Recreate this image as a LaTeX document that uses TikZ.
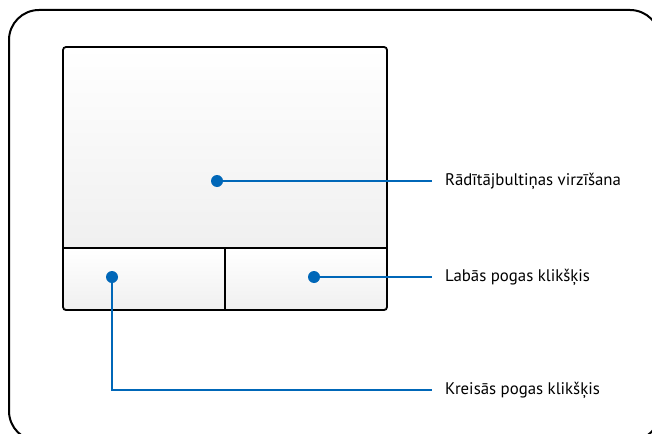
\documentclass[tikz,border=0pt]{standalone}
\usepackage{fontspec}
\setmainfont{PT Sans}
\begin{document}
\begin{tikzpicture}[x=1pt,y=-1pt,
  frame/.style={draw=black,line width=2pt},
  pad/.style={draw=black,line width=1.8pt,rounded corners=3pt},
  dotpt/.style={circle,fill=blueline,inner sep=0pt,minimum size=12pt},
  lead/.style={draw=blueline,line width=2.2pt},
  lbl/.style={anchor=west,inner sep=0pt,font=\fontsize{16.8}{19}\selectfont}]
\definecolor{blueline}{HTML}{0067B8}
\useasboundingbox (0,0) rectangle (652,433);
\clip (0,0) rectangle (652,433);
\draw[frame,rounded corners=30pt] (9,10) rectangle (660,441);
% touchpad
\shade[top color=white,bottom color=black!6,rounded corners=3pt] (63,47) rectangle (387,248);
\shade[top color=white,bottom color=black!6] (63,248) rectangle (225,310);
\shade[top color=white,bottom color=black!6] (225,248) rectangle (387,310);
\draw[pad] (63,47) rectangle (387,310);
\draw[line width=1.8pt] (63,248) -- (387,248);
\draw[line width=1.8pt] (225,248) -- (225,310);
% dots
\node[dotpt] (d1) at (217,181) {};
\node[dotpt] (d2) at (314,277) {};
\node[dotpt] (d3) at (112,277) {};
\coordinate (e1) at (432,181);
\coordinate (e2) at (432,277);
\coordinate (e3) at (432,390);
\coordinate (k3) at (112,390);
\draw[lead] (d1.center) -- (e1);
\draw[lead] (d2.center) -- (e2);
\draw[lead] (d3.center) -- (k3) -- (e3);
\node[lbl] (t1) at (445,181) {Rādītājbultiņas virzīšana};
\node[lbl] (t2) at (445,277) {Labās pogas klikšķis};
\node[lbl] (t3) at (445,390) {Kreisās pogas klikšķis};
\end{tikzpicture}
\end{document}
